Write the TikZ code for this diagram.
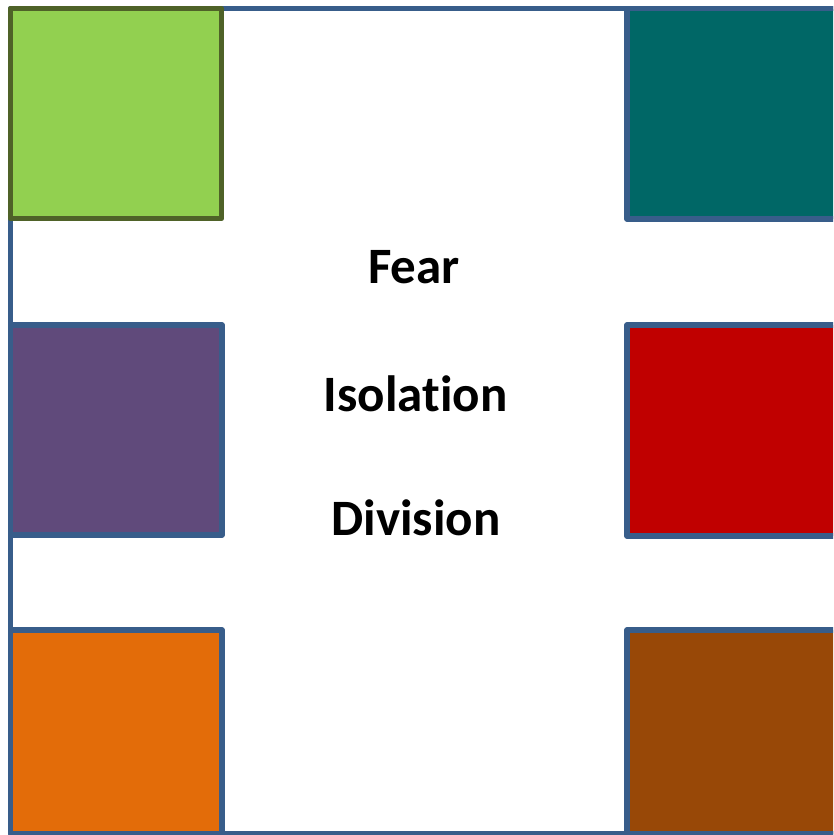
\documentclass[tikz,border=0pt]{standalone}
\usepackage{fontspec}
\setmainfont[Ligatures=NoCommon]{Carlito}
\definecolor{frameblue}{HTML}{385D8A}
\definecolor{oliveedge}{HTML}{4F6228}
\definecolor{cgreen}{HTML}{92D050}
\definecolor{cteal}{HTML}{006766}
\definecolor{cpurple}{HTML}{604A7B}
\definecolor{cred}{HTML}{C00000}
\definecolor{corange}{HTML}{E36C09}
\definecolor{cbrown}{HTML}{984807}
\tikzset{
  box/.style={line width=5.5pt, line join=round, draw=frameblue},
  word/.style={anchor=base, font=\fontsize{51}{60}\selectfont\bfseries, inner sep=0pt}
}
\begin{document}
\begin{tikzpicture}[x=1pt,y=-1pt]
\useasboundingbox (0,0) rectangle (833,835);
\clip (0,0) rectangle (833,835);
\fill[white] (0,0) rectangle (833,835);
\draw[box] (10.5,8.5) rectangle (860,833.5);
% left column
\draw[box, fill=cgreen, draw=oliveedge] (10.5,8.5) rectangle (221.5,218.5);
\draw[box, fill=cpurple] (10.5,325) rectangle (222,535);
\draw[box, fill=corange] (10.5,630) rectangle (222,833.5);
% right column
\draw[box, fill=cteal] (627,8.5) rectangle (860,219);
\draw[box, fill=cred] (627,325) rectangle (860,536);
\draw[box, fill=cbrown] (627,630) rectangle (860,833.5);
% words
\node[word] (fear) at (414,283) {Fear};
\node[word] (isol) at (415.5,411) {Isolation};
\node[word] (divi) at (416,535) {Division};
\end{tikzpicture}
\end{document}
